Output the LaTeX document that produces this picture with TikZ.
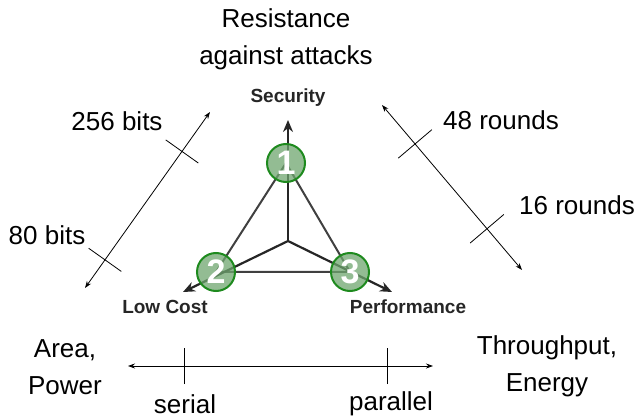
\documentclass[tikz,border=0pt]{standalone}
\usepackage{fontspec}
\setmainfont{Liberation Sans}
\usetikzlibrary{arrows.meta,decorations.markings}
\definecolor{trigreen}{HTML}{6FA66F}
\definecolor{triedge}{HTML}{1E8A1E}
\definecolor{trigray}{HTML}{404040}

\tikzset{
  bigtext/.style={font=\fontsize{26}{37}\selectfont, align=center},
  axislabel/.style={font=\bfseries\fontsize{19}{19}\selectfont, text=black!85},
  axisarrow/.style={line width=2.2pt, draw=black!85, -{Stealth[length=12pt,width=10pt]}},
  triline/.style={line width=2pt, draw=trigray},
  numcirc/.style={circle, minimum size=38pt, inner sep=0pt, fill=trigreen,
    fill opacity=0.75, text opacity=1, draw=triedge, line width=2pt,
    text=white, font=\bfseries\fontsize{34}{34}\selectfont},
  rangearrow/.style={line width=0.8pt,
    {Stealth[length=7pt,width=5pt]}-{Stealth[length=7pt,width=5pt]}},
  rangeticks/.style n args={3}{postaction={decorate},
    decoration={markings,
      mark=at position #1 with {\draw[-, line width=0.8pt] (0,-#3) -- (0,#3);},
      mark=at position #2 with {\draw[-, line width=0.8pt] (0,-#3) -- (0,#3);}}}
}

\begin{document}
\begin{tikzpicture}[x=1pt,y=-1pt]
  \useasboundingbox (0,0) rectangle (639,419);

  % triangle and its three axes
  \coordinate (mid) at (288,241);
  \coordinate (p1) at (286,163);
  \coordinate (p2) at (216,272);
  \coordinate (p3) at (350,272);
  \coordinate (tipsec) at (288,120);
  \coordinate (tipcost) at (183,292);
  \coordinate (tipperf) at (392,292);

  \draw[triline] (p1) -- (p2) -- (p3) -- cycle;
  \draw[axisarrow] (mid) -- (tipsec);
  \draw[axisarrow] (mid) -- (tipcost);
  \draw[axisarrow] (mid) -- (tipperf);

  \node[numcirc] (n1) at (p1) {1};
  \node[numcirc] (n2) at (p2) {2};
  \node[numcirc] (n3) at (p3) {3};

  \node[axislabel] (sec) at (288,98) {Security};
  \node[axislabel] (cost) at (165,307) {Low Cost};
  \node[axislabel] (perf) at (408,307) {Performance};

  % security scale
  \coordinate (keylo) at (85,288);
  \coordinate (keyhi) at (210,112);
  \draw[rangearrow, rangeticks={0.16}{0.776}{20pt}] (keylo) -- (keyhi);
  \node[bigtext] (bits256) at (117,121) {256 bits};
  \node[bigtext] (bits80) at (47,235) {80 bits};
  \node[bigtext] (resist) at (286,39) {Resistance\\against attacks};

  % performance scale
  \coordinate (rndhi) at (382,105);
  \coordinate (rndlo) at (522,270);
  \draw[rangearrow, rangeticks={0.236}{0.75}{22pt}] (rndhi) -- (rndlo);
  \node[bigtext] (rnd48) at (501,120) {48 rounds};
  \node[bigtext] (rnd16) at (577,205) {16 rounds};

  % cost scale
  \coordinate (archlo) at (128,366);
  \coordinate (archhi) at (433,366);
  \draw[rangearrow, rangeticks={0.184}{0.852}{18pt}] (archlo) -- (archhi);
  \node[bigtext] (serial) at (185,404) {serial};
  \node[bigtext] (parallel) at (391,404) {parallel};
  \node[bigtext] (areapow) at (65,367) {Area,\\Power};
  \node[bigtext] (thruen) at (547,366) {Throughput,\\Energy};
\end{tikzpicture}
\end{document}
